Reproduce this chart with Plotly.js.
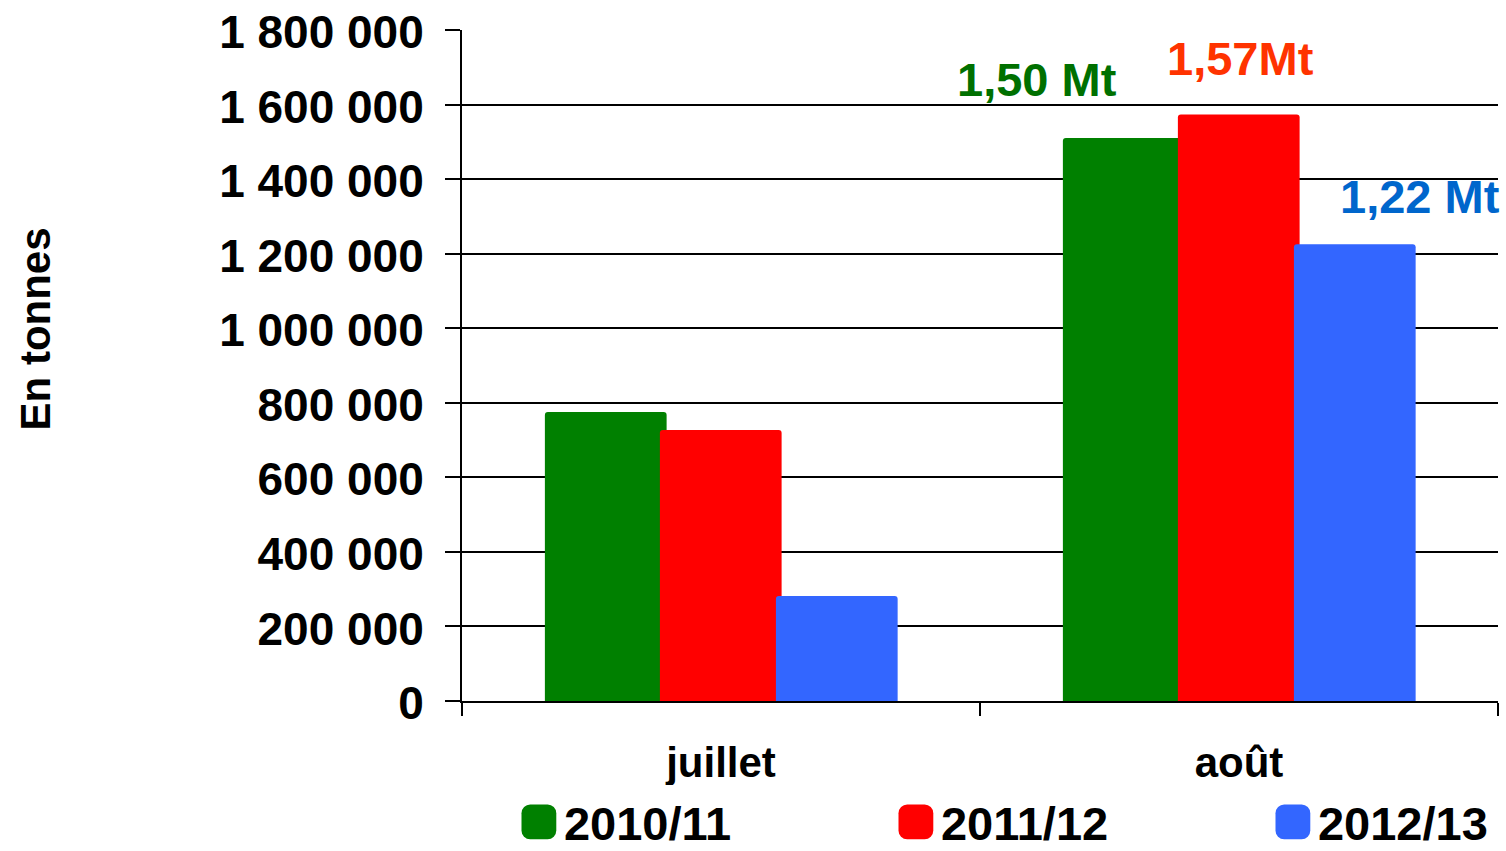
<!DOCTYPE html>
<html>
<head>
<meta charset="utf-8">
<script src="https://cdn.plot.ly/plotly-3.0.1.min.js"></script>
<style>html,body{margin:0;padding:0;background:#fff;}#chart{width:1506px;height:851px;}</style>
</head>
<body>
<div id="chart"></div>
<script>
// Data
const months = ["juillet", "août"];
const seriesNames = ["2010/11", "2011/12", "2012/13"];
const v2010 = [775000, 1510000];
const v2011 = [727000, 1573000];
const v2012 = [282000, 1225000];
const labelTexts = ["1,50 Mt", "1,57Mt", "1,22 Mt"];
const yTitle = "En tonnes";
const yTicks = [0, 200000, 400000, 600000, 800000, 1000000, 1200000, 1400000, 1600000, 1800000];

const barColors = ["#008000", "#FF0000", "#3366FF"];
const labelColors = ["#007000", "#FF3300", "#0066CC"];
const offsets = [-0.34, -0.118, 0.106];
const barWidth = 0.235;
const values = [v2010, v2011, v2012];

const FONT = "Liberation Sans, Arial, sans-serif";

const traces = values.map((vals, i) => ({
  type: "bar",
  name: seriesNames[i],
  x: months,
  y: vals,
  width: barWidth,
  offset: offsets[i],
  marker: {color: barColors[i], line: {width: 0}, cornerradius: 3},
  hoverinfo: "x+y+name"
}));

// Value labels for the août bars
const shifts = [{dx: -87, dy: 59}, {dx: 2, dy: 56}, {dx: 65, dy: 48}];
const barCenters = offsets.map(o => o + barWidth / 2);
const annotations = values.map((vals, i) => ({
  xref: "x", yref: "y",
  x: 1 + barCenters[i], y: vals[1],
  xshift: shifts[i].dx, yshift: shifts[i].dy,
  text: labelTexts[i],
  showarrow: false,
  font: {family: FONT, size: 47, weight: "bold", color: labelColors[i]}
}));
// Vertical axis title
annotations.push({
  xref: "paper", yref: "paper",
  x: -0.412, y: 0.554,
  xanchor: "center", yanchor: "middle",
  text: yTitle, textangle: -90,
  showarrow: false,
  font: {family: FONT, size: 42, weight: "bold", color: "#000"}
});

const layout = {
  width: 1506, height: 851,
  paper_bgcolor: "#ffffff", plot_bgcolor: "#ffffff",
  margin: {l: 462, r: 8, t: 30, b: 150, pad: 0, autoexpand: false},
  separators: ", ",
  barmode: "overlay",
  showlegend: true,
  legend: {
    orientation: "h",
    x: -0.0001, xanchor: "left",
    y: -0.125, yanchor: "top",
    indentation: 52,
    entrywidth: 270, entrywidthmode: "pixels",
    font: {family: FONT, size: 47, weight: "bold", color: "#000"},
    itemwidth: 40,
    traceorder: "normal"
  },
  xaxis: {
    type: "category",
    range: [-0.5, 1.5],
    showline: true, linecolor: "#000", linewidth: 2,
    ticks: "outside", tickson: "boundaries", ticklen: 13, tickwidth: 2, tickcolor: "#000",
    showgrid: false, zeroline: false,
    tickfont: {family: FONT, size: 42, weight: "bold", color: "#000"},
    ticklabelstandoff: 24
  },
  yaxis: {
    range: [0, 1800000],
    tickvals: yTicks,
    tickformat: ",d",
    showline: true, linecolor: "#000", linewidth: 2,
    ticks: "outside", ticklen: 15, tickwidth: 2, tickcolor: "#000",
    showgrid: true, gridcolor: "#000", gridwidth: 2,
    zeroline: false,
    tickfont: {family: FONT, size: 46, weight: "bold", color: "#000"},
    ticklabelstandoff: 12,
    ticklabelshift: 2
  },
  annotations: annotations
};

Plotly.newPlot("chart", traces, layout, {displayModeBar: false, staticPlot: true}).then(gd => {
  gd.querySelectorAll(".legend .legendpoints path").forEach(p => {
    const t = p.getAttribute("transform") || "";
    p.setAttribute("transform", t + " scale(2.9)");
  });
});
</script>
</body>
</html>
